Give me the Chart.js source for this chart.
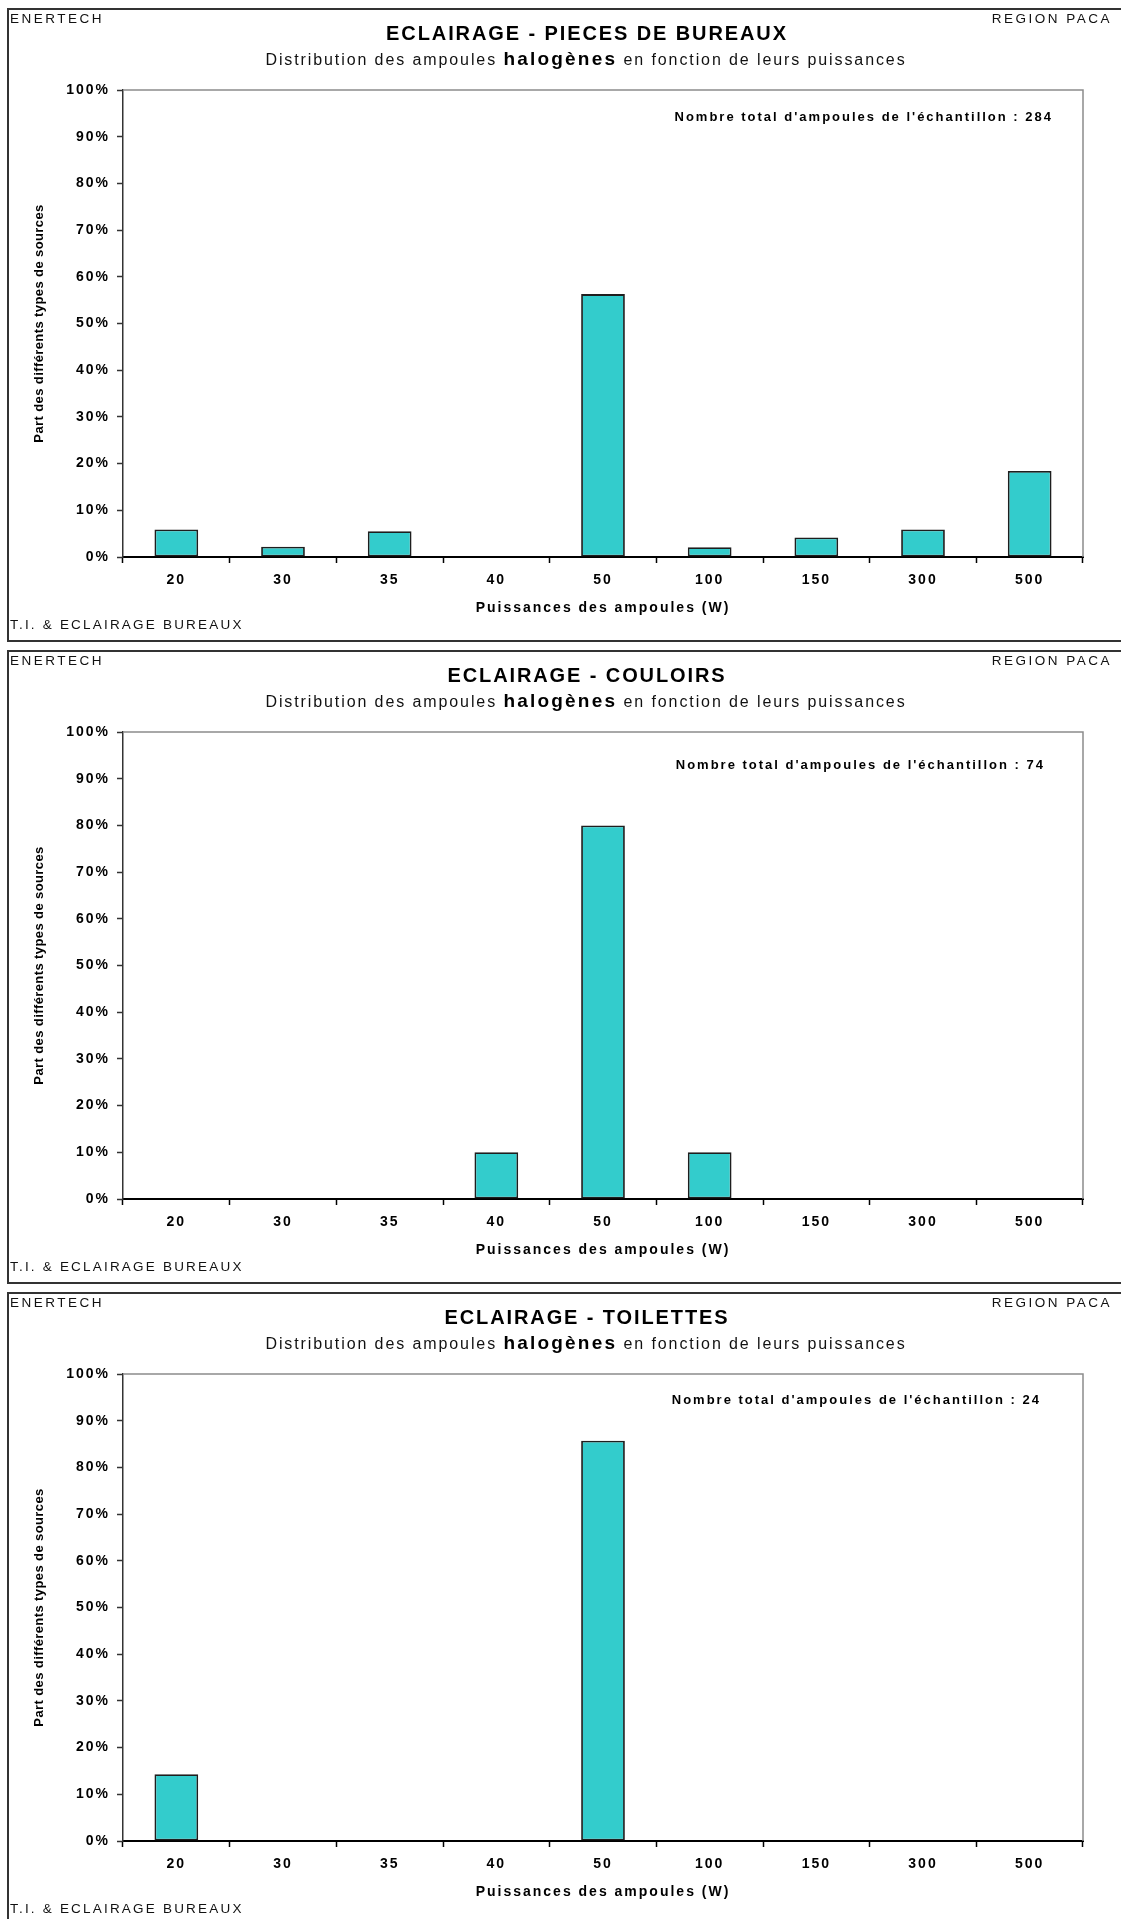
<!DOCTYPE html>
<html lang="fr">
<head>
<meta charset="utf-8">
<title>Eclairage - ampoules halogènes</title>
<script src="https://cdn.jsdelivr.net/npm/chart.js@4.4.0/dist/chart.umd.min.js"></script>
<style>
  html, body { margin: 0; padding: 0; background: #fff; }
  body { width: 1121px; height: 1919px; position: relative; overflow: hidden;
         font-family: "Liberation Sans", Arial, sans-serif; color: #111; }
  .panel { position: absolute; left: 0; width: 1121px; height: 632px; }
  .cadre { position: absolute; left: 7px; top: -1px; width: 1200px; height: 634px;
           border: 2px solid #333; box-sizing: border-box; }
  .panel canvas { position: absolute; left: 0; top: 0; }
  .txt { position: absolute; white-space: nowrap; }
  .entete { font-size: 13.5px; letter-spacing: 2.5px; line-height: 16px; top: 2px; }
  .titre { font-size: 20px; font-weight: bold; letter-spacing: 1.9px; line-height: 22px;
           top: 13px; left: 587px; transform: translateX(-50%); color: #000; }
  .soustitre { font-size: 16px; letter-spacing: 1.9px; line-height: 20px;
               top: 40px; left: 586px; transform: translateX(-50%); }
  .soustitre b { font-size: 19px; letter-spacing: 2.2px; color: #000; }
  .note { font-size: 13px; font-weight: bold; letter-spacing: 2px; line-height: 16px; color: #000; }
  .pied { font-size: 13.5px; letter-spacing: 2.2px; line-height: 16px; left: 10px; top: 608px; }
</style>
</head>
<body>
<script>
const puissances = ['20', '30', '35', '40', '50', '100', '150', '300', '500'];

// part de chaque puissance, en %
const partBureaux = [5.9, 2.2, 5.5, 0, 56.3, 2.1, 4.2, 5.9, 18.4];
const partCouloirs = [0, 0, 0, 10, 80, 10, 0, 0, 0];
const partToilettes = [14.3, 0, 0, 0, 85.7, 0, 0, 0, 0];

const titresPieces = ['ECLAIRAGE - PIECES DE BUREAUX', 'ECLAIRAGE - COULOIRS', 'ECLAIRAGE - TOILETTES'];
const totalAmpoules = [284, 74, 24];

// placement des trois panneaux sur la page
const panneaux = [
    { top: 9, data: partBureaux, noteRight: 1051, noteY: 108 },
    { top: 651, data: partCouloirs, noteRight: 1043, noteY: 114 },
    { top: 1293, data: partToilettes, noteRight: 1039, noteY: 107 }
];

const FONT = '"Liberation Sans", Arial, sans-serif';

// cadre gris haut/droite + titre vertical
const habillage = {
    id: 'habillage',
    beforeDraw(chart) {
        chart.ctx.letterSpacing = '2px';
    },
    beforeDatasetsDraw(chart) {
        const { ctx, chartArea: a } = chart;
        ctx.save();
        ctx.strokeStyle = '#8c8c8c';
        ctx.lineWidth = 1.5;
        ctx.beginPath();
        ctx.moveTo(a.left, a.top);
        ctx.lineTo(a.right, a.top);
        ctx.lineTo(a.right, a.bottom);
        ctx.stroke();
        ctx.restore();
    },
    afterDraw(chart) {
        const { ctx, chartArea: a } = chart;
        ctx.save();
        ctx.letterSpacing = '0.4px';
        ctx.font = 'bold 13px ' + FONT;
        ctx.fillStyle = '#000';
        ctx.translate(39, (a.top + a.bottom) / 2);
        ctx.rotate(-Math.PI / 2);
        ctx.textAlign = 'center';
        ctx.textBaseline = 'middle';
        ctx.fillText('Part des différents types de sources', 0, 0);
        ctx.restore();
        ctx.letterSpacing = '0px';
    }
};

function addText(parent, cls, html, style) {
    const el = document.createElement('div');
    el.className = 'txt ' + cls;
    el.innerHTML = html;
    Object.assign(el.style, style || {});
    parent.appendChild(el);
    return el;
}

function renderPanel(p, index) {
    const panel = document.createElement('div');
    panel.className = 'panel';
    panel.style.top = p.top + 'px';
    document.body.appendChild(panel);

    const cadre = document.createElement('div');
    cadre.className = 'cadre';
    panel.appendChild(cadre);

    const canvas = document.createElement('canvas');
    canvas.width = 1121;
    canvas.height = 632;
    panel.appendChild(canvas);

    addText(panel, 'entete', 'ENERTECH', { left: '10px' });
    addText(panel, 'entete', 'REGION PACA', { right: '9px' });
    addText(panel, 'titre', titresPieces[index]);
    addText(panel, 'soustitre', 'Distribution des ampoules <b>halogènes</b> en fonction de leurs puissances');
    addText(panel, 'note', "Nombre total d'ampoules de l'échantillon : " + totalAmpoules[index],
        { right: (1121 - p.noteRight - 2) + 'px', top: (p.noteY - 8) + 'px' });
    addText(panel, 'pied', 'T.I. &amp; ECLAIRAGE BUREAUX');

    const tickFont = { family: FONT, size: 14, weight: 'bold' };

    new Chart(canvas.getContext('2d'), {
        type: 'bar',
        data: {
            labels: puissances,
            datasets: [{
                data: p.data,
                backgroundColor: '#33cccc',
                borderColor: '#1e1e1e',
                borderWidth: 1.8,
                borderSkipped: false,
                categoryPercentage: 1,
                barPercentage: 0.41
            }]
        },
        options: {
            responsive: false,
            animation: false,
            events: [],
            layout: { padding: { top: 81, right: 38, bottom: 0, left: 0 } },
            plugins: { legend: { display: false }, tooltip: { enabled: false } },
            scales: {
                x: {
                    grid: { offset: true, drawOnChartArea: false, drawTicks: true, tickLength: 6, tickColor: '#000', tickWidth: 1.5 },
                    border: { display: true, color: '#000', width: 2 },
                    ticks: { color: '#000', padding: 9, font: tickFont, maxRotation: 0, autoSkip: false },
                    title: {
                        display: true,
                        text: 'Puissances des ampoules (W)',
                        color: '#000',
                        font: { family: FONT, size: 14, weight: 'bold' },
                        padding: { top: 0, bottom: 24 }
                    },
                    afterFit(scale) { scale.height = 84; }
                },
                y: {
                    min: 0,
                    max: 100,
                    ticks: { stepSize: 10, callback: v => v + '%', padding: 7, color: '#000', font: tickFont },
                    grid: { drawOnChartArea: false, tickLength: 6, tickColor: '#333', tickWidth: 1.5 },
                    border: { display: true, color: '#333', width: 1.5 },
                    afterFit(scale) { scale.width = 123; }
                }
            }
        },
        plugins: [habillage]
    });
}

panneaux.forEach(renderPanel);
</script>
</body>
</html>
